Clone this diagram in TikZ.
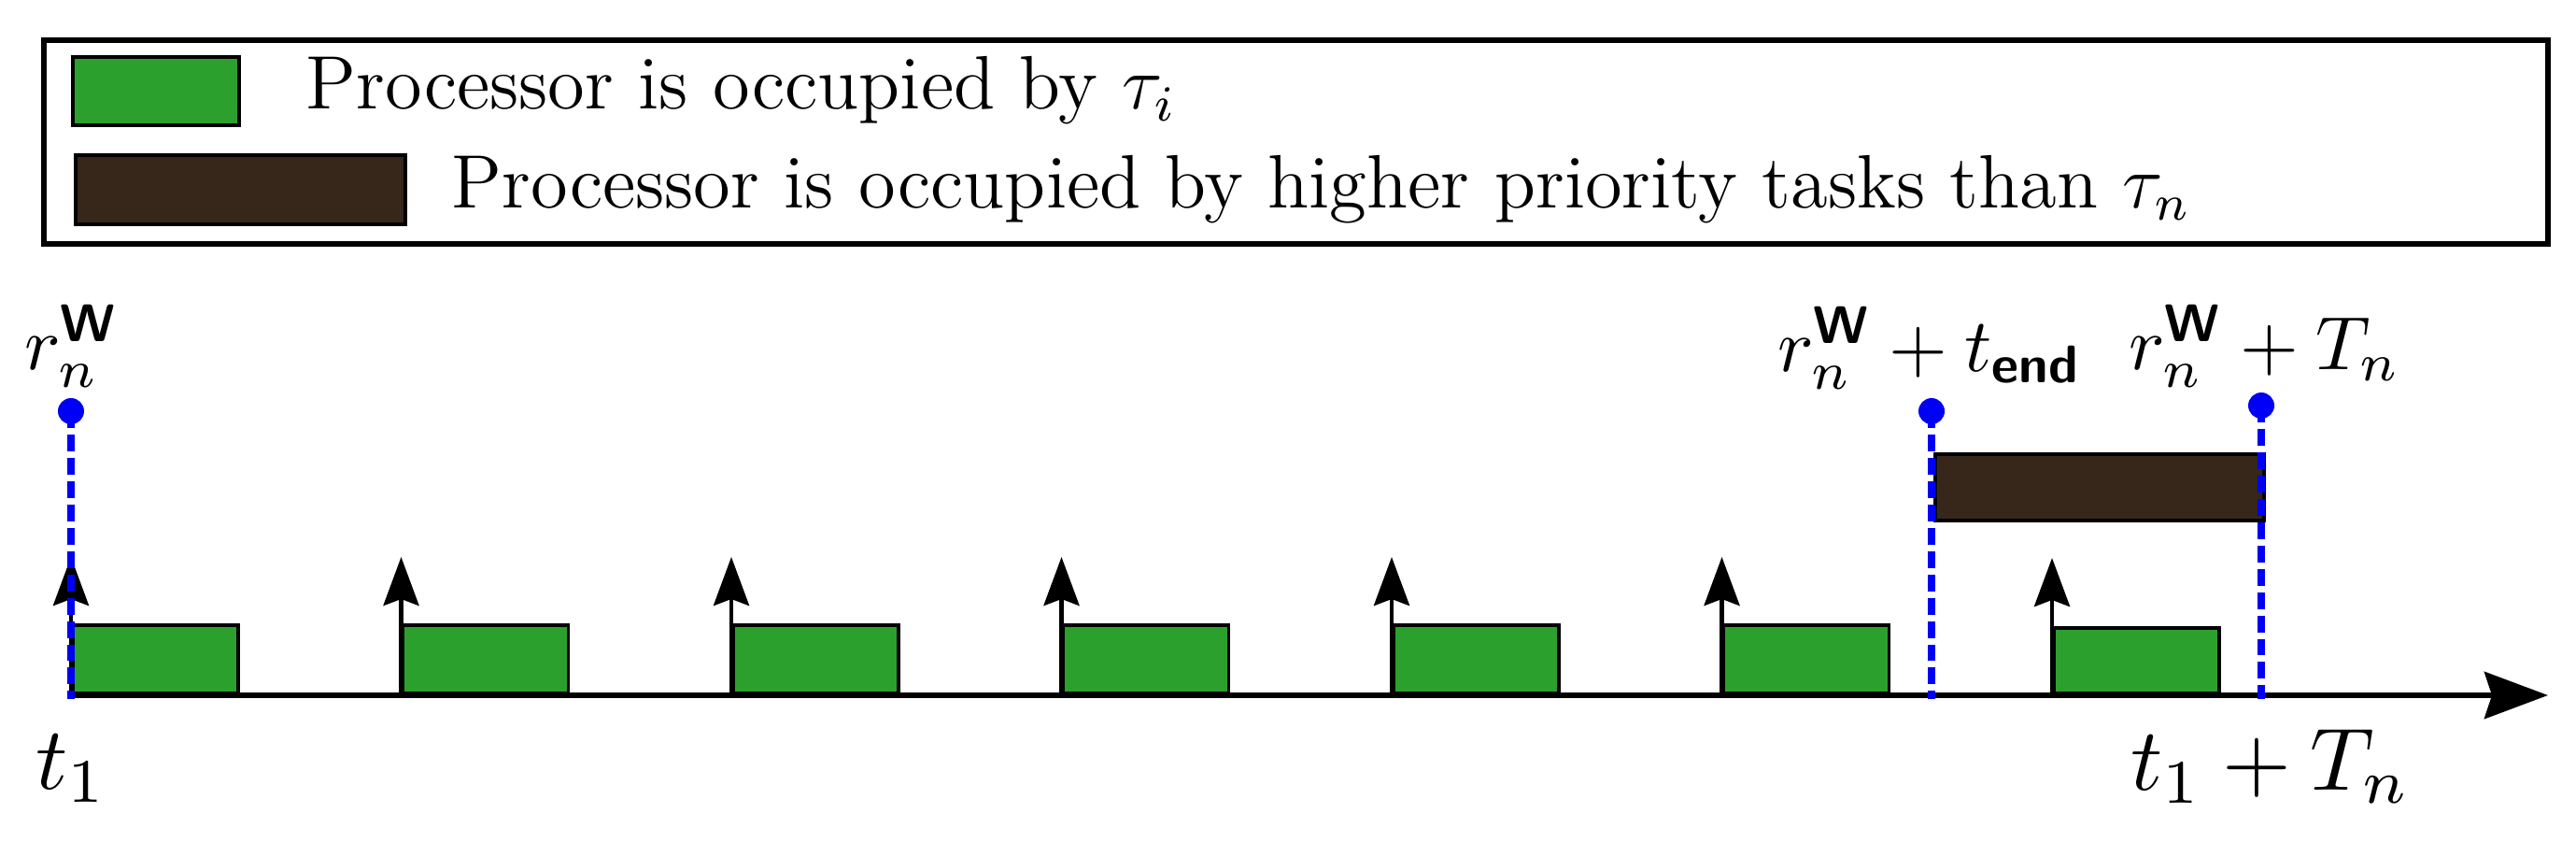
\documentclass[tikz,border=0pt]{standalone}
\usepackage{amsmath}
\usetikzlibrary{arrows.meta}
\definecolor{occgreen}{RGB}{44,160,44}
\definecolor{occbrown}{RGB}{55,39,27}
\definecolor{relblue}{RGB}{0,0,245}
\newcommand{\wsup}{\text{\sffamily\bfseries W}}
\newcommand{\tendsub}{\text{\sffamily\bfseries end}}
\tikzset{
  greenbox/.style={draw=black, line width=1.1pt, fill=occgreen, anchor=south west, inner sep=0pt, minimum width=1.77cm, minimum height=0.73cm},
  brownbox/.style={draw=black, line width=1.1pt, fill=occbrown, anchor=south west, inner sep=0pt},
  uparrow/.style={draw=black, line width=1.3pt, -{Stealth[length=0.52cm, width=0.38cm, inset=0.07cm]}},
  axisline/.style={draw=black, line width=1.9pt, -{Stealth[length=0.68cm, width=0.5cm, inset=0.08cm]}},
  bluedash/.style={draw=relblue, line width=2.3pt, dash pattern=on 5.1pt off 2pt},
  reldot/.style={circle, fill=relblue, inner sep=0pt, minimum size=0.28cm},
  toplabel/.style={anchor=base, inner sep=0pt, scale=2.3, font=\fontsize{10}{12}\selectfont},
  botlabel/.style={anchor=base, inner sep=0pt, scale=2.7, font=\fontsize{10}{12}\selectfont},
  legtext/.style={anchor=base west, inner sep=0pt, scale=1.92, font=\fontsize{12}{14}\selectfont},
}
\begin{document}
\begin{tikzpicture}
\useasboundingbox (0,0) rectangle (27.58,9);
% legend
\node[draw=black, line width=1.7pt, anchor=south west, inner sep=0pt, minimum width=26.81cm, minimum height=2.18cm] (legend) at (0.44,6.36) {};
\node[greenbox, minimum width=1.78cm, minimum height=0.73cm] (lg) at (0.76,7.64) {};
\node[brownbox, minimum width=3.53cm, minimum height=0.74cm] (lb) at (0.79,6.58) {};
\node[legtext] (lt1) at (3.26,7.83) {Processor is occupied by $\tau_i$};
\node[legtext] (lt2) at (4.82,6.77) {Processor is occupied by higher priority tasks than $\tau_n$};
% green execution boxes
\foreach \i/\x in {1/0.76, 2/4.295, 3/7.83, 4/11.365, 5/14.9, 6/18.435} {
  \node[greenbox] (g\i) at (\x,1.56) {};
  \coordinate (a\i) at (\x,3.04);
}
\node[greenbox, minimum height=0.70cm] (g7) at (21.97,1.56) {};
\coordinate (a7) at (21.97,3.03);
% brown box
\node[brownbox, minimum width=3.52cm, minimum height=0.71cm] (hb) at (20.70,3.41) {};
% axis
\coordinate (axs) at (0.72,1.56);
\coordinate (axe) at (27.28,1.56);
\draw[axisline] (axs) -- (axe);
% release arrows
\foreach \i in {1,...,7} {
  \draw[uparrow] (g\i.south west) -- (a\i);
}
% blue dashed markers
\node[reldot] (d1) at (0.76,4.60) {};
\node[reldot] (d2) at (20.68,4.60) {};
\node[reldot] (d3) at (24.21,4.66) {};
\coordinate (b1) at (0.76,1.52);
\coordinate (b2) at (20.68,1.52);
\coordinate (b3) at (24.21,1.52);
\draw[bluedash] (d1.center) -- (b1);
\draw[bluedash] (d2.center) -- (b2);
\draw[bluedash] (d3.center) -- (b3);
% labels
\node[toplabel] (l1) at (0.77,5.05) {$r_n^{\wsup}$};
\node[toplabel] (l2) at (20.66,5.03) {$r_n^{\wsup}+t_{\tendsub}$};
\node[toplabel] (l3) at (24.25,5.05) {$r_n^{\wsup}+T_n$};
\node[botlabel] (l4) at (0.77,0.56) {$t_1$};
\node[botlabel] (l5) at (24.31,0.55) {$t_1+T_n$};
\end{tikzpicture}
\end{document}
